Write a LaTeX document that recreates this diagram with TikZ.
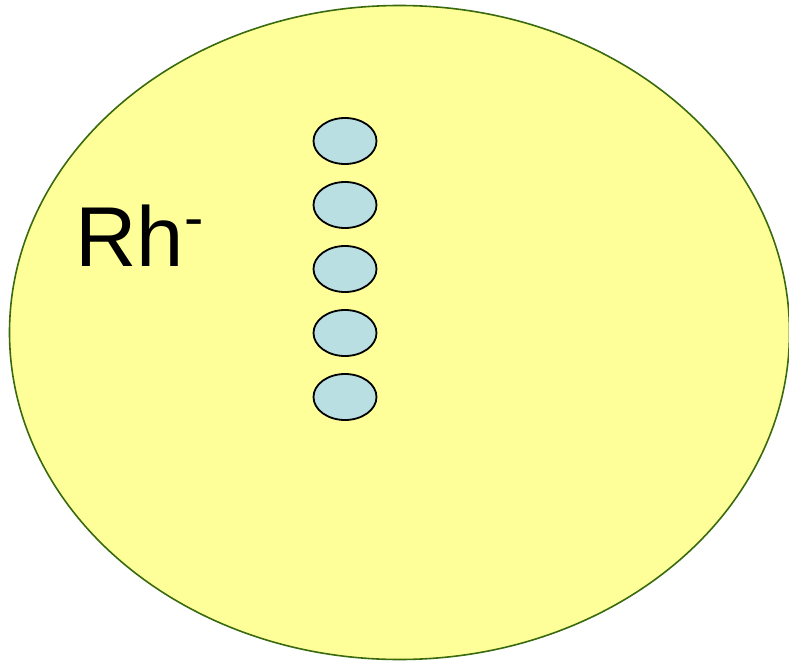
\documentclass[tikz,border=0pt]{standalone}
\usepackage{fontspec}
\setmainfont{Liberation Sans}
\usepackage{xcolor}
\usetikzlibrary{shapes.geometric}

\definecolor{cellyellow}{HTML}{FFFF99}
\definecolor{cellgreen}{HTML}{3A6A0E}
\definecolor{antigenblue}{HTML}{B9DFE3}

\begin{document}
\begin{tikzpicture}[
    x=1pt, y=-1pt,
    cell/.style={ellipse, draw=cellgreen, fill=cellyellow, line width=1.6pt,
        minimum width=780pt, minimum height=654pt, inner sep=0pt},
    antigen/.style={ellipse, draw=black, fill=antigenblue, line width=1.8pt,
        minimum width=63pt, minimum height=46pt, inner sep=0pt}
]
    \useasboundingbox (0,0) rectangle (789,663);

    % Cell
    \node[cell] (cell) at (399.5,332.5) {};

    % Label
    \node[anchor=base west, inner sep=0pt, font=\fontsize{85}{100}\selectfont]
        (rh) at (75,266) {Rh\hspace{1pt}\raisebox{29pt}{\fontsize{58}{60}\selectfont -}};

    % Antigens
    \foreach \i [count=\n] in {141,205,269,333,397}
        \node[antigen] (ag\n) at (345,\i) {};
\end{tikzpicture}
\end{document}
